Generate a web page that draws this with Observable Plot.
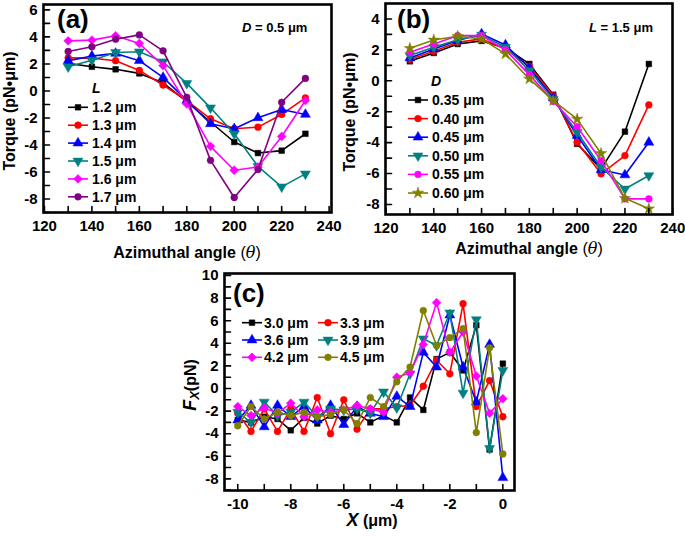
<!DOCTYPE html>
<html><head><meta charset="utf-8">
<script src="https://cdn.jsdelivr.net/npm/d3@7"></script>
<script src="https://cdn.jsdelivr.net/npm/@observablehq/plot@0.6"></script>
<style>
body{margin:0;background:#fff;}
#root{position:relative;width:685px;height:536px;overflow:hidden;background:#fff;}
#root > svg{position:absolute;}
</style></head><body><div id="root"></div>
<script>
// ---------- data: panel (a), D = 0.5 um ----------
const angles = [130,140,150,160,170,180,190,200,210,220,230];
const torqueL12 = [2.04, 1.79, 1.60, 1.30, 0.60, -0.80, -2.30, -3.78, -4.60, -4.42, -3.17];
const torqueL13 = [2.45, 2.43, 2.24, 1.52, 0.44, -0.71, -2.06, -2.80, -2.68, -1.74, -0.52];
const torqueL14 = [2.24, 2.58, 2.78, 2.24, 1.00, -0.70, -2.43, -2.80, -1.99, -1.38, -1.74];
const torqueL15 = [1.79, 2.28, 2.85, 2.90, 2.16, 0.56, -1.25, -3.17, -5.58, -7.10, -6.14];
const torqueL16 = [3.71, 3.76, 4.08, 3.51, 1.87, -0.96, -4.10, -5.87, -5.63, -3.37, -0.71];
const torqueL17 = [2.92, 3.27, 3.83, 4.15, 2.97, -0.47, -5.14, -7.89, -5.82, -0.84, 0.93];
const labelsA = ["1.2 \u03bcm","1.3 \u03bcm","1.4 \u03bcm","1.5 \u03bcm","1.6 \u03bcm","1.7 \u03bcm"];

// ---------- data: panel (b), L = 1.5 um ----------
const torqueD035 = [1.26, 1.80, 2.38, 2.58, 2.13, 1.09, -0.90, -4.08, -5.70, -3.29, 1.09];
const torqueD040 = [1.37, 1.91, 2.49, 2.71, 2.06, 0.94, -0.96, -3.98, -6.02, -4.84, -1.56];
const torqueD045 = [1.48, 2.06, 2.60, 3.03, 2.32, 0.83, -1.11, -3.54, -5.76, -6.09, -3.98];
const torqueD050 = [1.63, 2.17, 2.66, 2.96, 2.17, 0.66, -1.20, -3.33, -5.59, -7.00, -6.13];
const torqueD055 = [1.84, 2.38, 2.92, 2.92, 2.00, 0.40, -1.33, -2.97, -5.16, -7.64, -7.64];
const torqueD060 = [2.10, 2.64, 2.88, 2.71, 1.74, 0.12, -1.28, -2.48, -4.70, -7.60, -8.28];
const labelsB = ["0.35 \u03bcm","0.40 \u03bcm","0.45 \u03bcm","0.50 \u03bcm","0.55 \u03bcm","0.60 \u03bcm"];

// ---------- data: panel (c) ----------
const positions = [-10,-9.5,-9,-8.5,-8,-7.5,-7,-6.5,-6,-5.5,-5,-4.5,-4,-3.5,-3,-2.5,-2,-1.5,-1,-0.5,0];
const forceS30 = [-2.8,-3.0,-2.5,-2.7,-3.7,-2.6,-3.1,-2.4,-2.7,-2.2,-3.0,-2.4,-3.0,-0.8,-1.9,2.6,3.2,1.6,5.6,-5.4,2.2];
const forceS33 = [-2.2,-3.8,-1.8,-3.8,-1.8,-3.8,-0.8,-4.0,-1.0,-3.6,-1.8,-1.8,-1.6,-1.5,0.2,2.5,1.3,7.5,-1.6,0.7,-2.5];
const forceS36 = [-2.8,-1.5,-3.4,-1.5,-2.5,-1.6,-2.8,-1.5,-3.2,-1.6,-2.2,-2.5,-0.7,-1.6,3.2,1.9,6.5,1.9,-1.2,3.9,-7.9];
const forceS39 = [-2.1,-3.0,-1.2,-2.4,-2.1,-1.2,-2.5,-1.8,-1.9,-1.8,-2.2,-0.3,-1.7,1.3,4.4,3.8,6.7,-0.4,6.1,-5.3,1.6];
const forceS42 = [-1.6,-2.4,-1.7,-2.2,-1.3,-2.5,-1.9,-2.1,-1.9,-1.5,-1.8,-2.1,1.0,1.4,3.9,7.6,3.2,5.0,1.1,-2.2,-0.9];
const forceS45 = [-3.3,-1.6,-2.7,-2.1,-2.4,-2.1,-2.5,-2.3,-1.9,-3.1,-0.8,-1.6,0.6,1.9,6.9,3.8,4.5,5.3,-3.9,3.6,-5.8];
const labelsC = ["3.0 \u03bcm","3.3 \u03bcm","3.6 \u03bcm","3.9 \u03bcm","4.2 \u03bcm","4.5 \u03bcm"];

// ---------- tick values ----------
const angleTicks = [120,140,160,180,200,220,240];
const angleMinor = [120,130,140,150,160,170,180,190,200,210,220,230,240];
const torqueTicksA = [-8,-6,-4,-2,0,2,4,6];
const torqueMinorA = [-9,-8,-7,-6,-5,-4,-3,-2,-1,0,1,2,3,4,5,6];
const torqueTicksB = [-8,-6,-4,-2,0,2,4];
const torqueMinorB = [-8,-7,-6,-5,-4,-3,-2,-1,0,1,2,3,4];
const posTicks = [-10,-8,-6,-4,-2,0];
const posMinor = [-10,-9,-8,-7,-6,-5,-4,-3,-2,-1,0];
const forceTicks = [-8,-6,-4,-2,0,2,4,6,8,10];
const forceMinor = [-9,-8,-7,-6,-5,-4,-3,-2,-1,0,1,2,3,4,5,6,7,8,9,10];

// ---------- styles (series appearance) ----------
const BLACK="#000000", RED="#ff0000", BLUE="#0000ff", TEAL="#008080", MAGENTA="#ff00ff", PURPLE="#800080", OLIVE="#808000";
const seriesA = [
  {v: torqueL12, c: BLACK, s: "square", rot: 0, r: 3.2},
  {v: torqueL13, c: RED, s: "circle", rot: 0, r: 3.4},
  {v: torqueL14, c: BLUE, s: "triangle", rot: 0, r: 3.7},
  {v: torqueL15, c: TEAL, s: "triangle", rot: 180, r: 3.7},
  {v: torqueL16, c: MAGENTA, s: "diamond2", rot: 0, r: 4.0},
  {v: torqueL17, c: PURPLE, s: "circle", rot: 0, r: 3.4}
];
const seriesB = [
  {v: torqueD035, c: BLACK, s: "square", rot: 0, r: 3.2},
  {v: torqueD040, c: RED, s: "circle", rot: 0, r: 3.4},
  {v: torqueD045, c: BLUE, s: "triangle", rot: 0, r: 3.7},
  {v: torqueD050, c: TEAL, s: "triangle", rot: 180, r: 3.7},
  {v: torqueD055, c: MAGENTA, s: "circle", rot: 0, r: 3.4},
  {v: torqueD060, c: OLIVE, s: "star", rot: 0, r: 3.6}
];
const seriesC = [
  {v: forceS30, c: BLACK, s: "square", rot: 0, r: 3.2},
  {v: forceS33, c: RED, s: "circle", rot: 0, r: 3.4},
  {v: forceS36, c: BLUE, s: "triangle", rot: 0, r: 3.7},
  {v: forceS39, c: TEAL, s: "triangle", rot: 180, r: 3.7},
  {v: forceS42, c: MAGENTA, s: "diamond2", rot: 0, r: 4.0},
  {v: forceS45, c: OLIVE, s: "circle", rot: 0, r: 3.4}
];

const FONT = "'Liberation Sans', Arial, Helvetica, sans-serif";
const tickShape = {draw(ctx, l){ ctx.moveTo(0,0); ctx.lineTo(0,-l); }};

function panel({xs, series, width, height, margins, xDomain, yDomain, xTicks, xMinor, yTicks, yMinor}) {
  const marks = [];
  for (const s of series) {
    const rows = xs.map((x,i) => ({x, y: s.v[i]}));
    marks.push(Plot.line(rows, {x: "x", y: "y", stroke: s.c, strokeWidth: 1.6}));
    marks.push(Plot.dot(rows, {x: "x", y: "y", fill: s.c, stroke: s.c, strokeWidth: 0.5, symbol: s.s, r: s.r, rotate: s.rot}));
  }
  marks.push(
    Plot.vector(xMinor, {x: d => d, frameAnchor: "bottom", length: 6, rotate: 0, anchor: "start", shape: tickShape, stroke: "black", strokeWidth: 1.6}),
    Plot.vector(yMinor, {y: d => d, frameAnchor: "left", length: 6, rotate: 90, anchor: "start", shape: tickShape, stroke: "black", strokeWidth: 1.6}),
    Plot.axisX(xTicks, {tickSize: 0, tickPadding: 8, tickFormat: d => String(d), fontSize: 15, label: null}),
    Plot.axisY(yTicks, {tickSize: 0, tickPadding: 6, tickFormat: d => String(d), fontSize: 15, label: null}),
    Plot.frame({stroke: "black", strokeWidth: 2.6})
  );
  return Plot.plot({
    width, height, ...margins,
    x: {domain: xDomain}, y: {domain: yDomain},
    style: {fontFamily: FONT, fontWeight: "bold", fontSize: "15px", color: "black", background: "transparent", overflow: "visible"},
    marks
  });
}

const root = document.getElementById("root");
function place(svg, left, top) { svg.style.left = left + "px"; svg.style.top = top + "px"; root.appendChild(svg); }

place(panel({xs: angles, series: seriesA, width: 340, height: 265,
  margins: {marginLeft: 43, marginRight: 9, marginTop: 4, marginBottom: 53},
  xDomain: [119.6, 241], yDomain: [-9, 6.4], xTicks: angleTicks, xMinor: angleMinor, yTicks: torqueTicksA, yMinor: torqueMinorA}), 0, 0);

place(panel({xs: angles, series: seriesB, width: 345, height: 265,
  margins: {marginLeft: 45, marginRight: 13, marginTop: 3, marginBottom: 51},
  xDomain: [119.8, 239.9], yDomain: [-8.65, 5], xTicks: angleTicks, xMinor: angleMinor, yTicks: torqueTicksB, yMinor: torqueMinorB}), 340, 0);

place(panel({xs: positions, series: seriesC, width: 350, height: 271,
  margins: {marginLeft: 44, marginRight: 16, marginTop: 8, marginBottom: 46},
  xDomain: [-10.5, 0.44], yDomain: [-9.03, 10.18], xTicks: posTicks, xMinor: posMinor, yTicks: forceTicks, yMinor: forceMinor}), 180, 265);

// ---------- overlay: titles, axis labels, legends ----------
const ov = d3.select(root).append("svg").attr("width", 685).attr("height", 536)
  .style("left", "0px").style("top", "0px").style("pointer-events", "none")
  .attr("font-family", FONT).attr("font-weight", "bold").attr("fill", "black");

function txt(x, y, parts, size, opts = {}) {
  const t = ov.append("text").attr("x", x).attr("y", y).attr("font-size", size)
    .attr("text-anchor", opts.anchor || "start");
  if (opts.rotate) t.attr("transform", `rotate(${opts.rotate},${x},${y})`);
  for (const p of parts) {
    const s = t.append("tspan").text(p.t);
    if (p.i) s.attr("font-style", "italic");
    if (p.n) s.attr("font-weight", "normal");
    if (p.f) s.attr("font-family", p.f);
    if (p.sz) s.attr("font-size", p.sz);
    if (p.dy) s.attr("dy", p.dy);
  }
  return t;
}

// panel letters
txt(57, 28, [{t: "(a)"}], 26);
txt(397, 28, [{t: "(b)"}], 26);
txt(233, 302, [{t: "(c)"}], 26);
// annotations
txt(242, 32, [{t: "D", i: true}, {t: " = 0.5 \u03bcm"}], 13);
txt(589, 32, [{t: "L", i: true}, {t: " = 1.5 \u03bcm"}], 13);
// axis titles
txt(187, 258, [{t: "Azimuthal angle "}, {t: "(", n: true}, {t: "\u03b8", i: true, n: true, f: "'DejaVu Serif', serif"}, {t: ")", n: true}], 16, {anchor: "middle"});
txt(529, 254, [{t: "Azimuthal angle "}, {t: "(", n: true}, {t: "\u03b8", i: true, n: true, f: "'DejaVu Serif', serif"}, {t: ")", n: true}], 16, {anchor: "middle"});
txt(15, 111, [{t: "Torque (pN\u2022\u03bcm)"}], 16, {anchor: "middle", rotate: -90});
txt(355, 112, [{t: "Torque (pN\u2022\u03bcm)"}], 16, {anchor: "middle", rotate: -90});
txt(196, 385, [{t: "F", i: true, sz: 18}, {t: "X", i: true, sz: 13, dy: 3}, {t: "(pN)", dy: -3}], 16, {anchor: "middle", rotate: -90});
txt(372, 526, [{t: "X", i: true, sz: 18}, {t: " (\u03bcm)"}], 16, {anchor: "middle"});

// legends
function legendEntry(x1, x2, tx, cy, s, label) {
  ov.append("line").attr("x1", x1).attr("x2", x2).attr("y1", cy).attr("y2", cy).attr("stroke", s.c).attr("stroke-width", 1.6);
  const sym = {square: d3.symbolSquare, circle: d3.symbolCircle, triangle: d3.symbolTriangle, diamond2: d3.symbolDiamond2, star: d3.symbolStar}[s.s];
  ov.append("path").attr("d", d3.symbol(sym, Math.PI * s.r * s.r)())
    .attr("transform", `translate(${(x1 + x2) / 2},${cy}) rotate(${s.rot})`).attr("fill", s.c).attr("stroke", s.c).attr("stroke-width", 0.5);
  txt(tx, cy + 5, [{t: label}], 14);
}
txt(92, 93, [{t: "L", i: true}], 14);
seriesA.forEach((s, i) => legendEntry(68, 88, 92, 107.3 + i * 17.9, s, labelsA[i]));
txt(431, 86, [{t: "D", i: true}], 14);
seriesB.forEach((s, i) => legendEntry(408, 428, 432, 100 + i * 18.6, s, labelsB[i]));
seriesC.forEach((s, i) => {
  const col = i % 2, row = Math.floor(i / 2);
  const x1 = col ? 318 : 242;
  legendEntry(x1, x1 + 20, x1 + 22, 322.7 + row * 17.3, s, labelsC[i]);
});
</script></body></html>
